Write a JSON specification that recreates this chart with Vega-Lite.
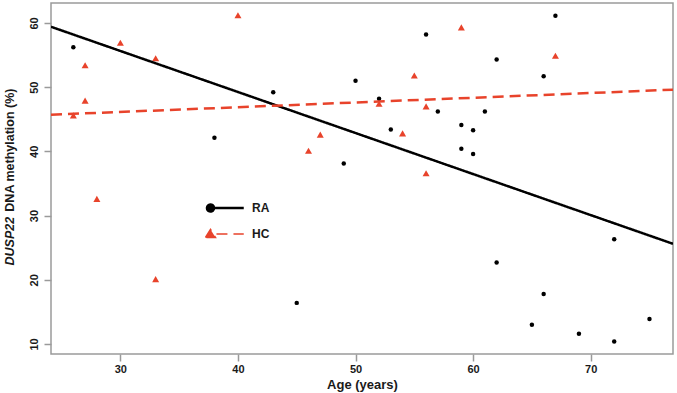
{
  "$schema": "https://vega.github.io/schema/vega-lite/v6.json",
  "width": 622,
  "height": 351,
  "autosize": "none",
  "padding": {"left": 51, "top": 3, "right": 4, "bottom": 39},
  "background": "white",
  "config": {
    "view": {"stroke": "#9a9a9a", "strokeWidth": 1.5},
    "axis": {
      "grid": false,
      "domain": false,
      "labelFont": "Liberation Sans",
      "labelFontWeight": "bold",
      "labelFontSize": 11,
      "labelColor": "#1a1a1a",
      "titleFont": "Liberation Sans",
      "titleFontWeight": "bold",
      "titleFontSize": 12.5,
      "titleColor": "#1a1a1a",
      "tickColor": "#9a9a9a",
      "tickWidth": 1.5,
      "tickSize": 7
    }
  },
  "datasets": {
    "samples": [
      {"group": "RA", "age": 26, "methylation": 56.2},
      {"group": "RA", "age": 38, "methylation": 42.1},
      {"group": "RA", "age": 43, "methylation": 49.2},
      {"group": "RA", "age": 45, "methylation": 16.4},
      {"group": "RA", "age": 49, "methylation": 38.1},
      {"group": "RA", "age": 50, "methylation": 51.0},
      {"group": "RA", "age": 52, "methylation": 48.2},
      {"group": "RA", "age": 53, "methylation": 43.4},
      {"group": "RA", "age": 56, "methylation": 58.2},
      {"group": "RA", "age": 57, "methylation": 46.2},
      {"group": "RA", "age": 59, "methylation": 44.1},
      {"group": "RA", "age": 59, "methylation": 40.4},
      {"group": "RA", "age": 60, "methylation": 43.3},
      {"group": "RA", "age": 60, "methylation": 39.6},
      {"group": "RA", "age": 61, "methylation": 46.2},
      {"group": "RA", "age": 62, "methylation": 54.3},
      {"group": "RA", "age": 62, "methylation": 22.7},
      {"group": "RA", "age": 65, "methylation": 13.0},
      {"group": "RA", "age": 66, "methylation": 51.7},
      {"group": "RA", "age": 66, "methylation": 17.8},
      {"group": "RA", "age": 67, "methylation": 61.1},
      {"group": "RA", "age": 69, "methylation": 11.6},
      {"group": "RA", "age": 72, "methylation": 26.3},
      {"group": "RA", "age": 72, "methylation": 10.4},
      {"group": "RA", "age": 75, "methylation": 13.9},
      {"group": "HC", "age": 26, "methylation": 45.6},
      {"group": "HC", "age": 27, "methylation": 53.4},
      {"group": "HC", "age": 27, "methylation": 47.9},
      {"group": "HC", "age": 28, "methylation": 32.6},
      {"group": "HC", "age": 30, "methylation": 56.9},
      {"group": "HC", "age": 33, "methylation": 54.5},
      {"group": "HC", "age": 33, "methylation": 20.1},
      {"group": "HC", "age": 40, "methylation": 61.2},
      {"group": "HC", "age": 46, "methylation": 40.1},
      {"group": "HC", "age": 47, "methylation": 42.6},
      {"group": "HC", "age": 52, "methylation": 47.4},
      {"group": "HC", "age": 54, "methylation": 42.8},
      {"group": "HC", "age": 55, "methylation": 51.8},
      {"group": "HC", "age": 56, "methylation": 47.0},
      {"group": "HC", "age": 56, "methylation": 36.6},
      {"group": "HC", "age": 59, "methylation": 59.3},
      {"group": "HC", "age": 67, "methylation": 54.9}
    ],
    "fits": [
      {"group": "RA", "age": 24.1, "methylation": 59.4},
      {"group": "RA", "age": 77.0, "methylation": 25.6},
      {"group": "HC", "age": 24.1, "methylation": 45.7},
      {"group": "HC", "age": 77.0, "methylation": 49.6}
    ]
  },
  "layer": [
    {
      "data": {"name": "samples"},
      "transform": [{"filter": "datum.group === 'RA'"}],
      "mark": {"type": "point", "filled": true, "opacity": 1, "shape": "circle", "size": 20},
      "encoding": {
        "x": {
          "field": "age",
          "type": "quantitative",
          "scale": {"domain": [24.1, 77], "nice": false, "zero": false},
          "axis": {
            "values": [30, 40, 50, 60, 70],
            "labelAngle": 0,
            "labelPadding": 2,
            "title": "Age (years)",
            "titleFontSize": 13,
            "titleBaseline": "alphabetic",
            "titleY": 34
          }
        },
        "y": {
          "field": "methylation",
          "type": "quantitative",
          "scale": {"domain": [8.44, 63.1], "nice": false, "zero": false},
          "axis": {
            "values": [10, 20, 30, 40, 50, 60],
            "labelAngle": -90,
            "labelPadding": 5,
            "title": "DNA methylation (%)",
            "titleAngle": 270,
            "titleAlign": "right",
            "titleBaseline": "alphabetic",
            "titleX": -38,
            "titleY": 85
          }
        },
        "color": {
          "field": "group",
          "type": "nominal",
          "scale": {"domain": ["RA", "HC"], "range": ["#000000", "#e8432b"]},
          "legend": {
            "orient": "none",
            "legendX": 153.5,
            "legendY": 199,
            "title": null,
            "padding": 0,
            "symbolSize": 49,
            "symbolOpacity": 1,
            "symbolType": {"expr": "datum.value === 'HC' ? 'M-1.43,1L0,-1.3L1.43,1ZM1.7,0L9.5,0' : 'M-1,0A1,1,0,1,0,1,0A1,1,0,1,0,-1,0ZM1,0L9.5,0'"},
            "symbolFillColor": {"expr": "datum.value === 'HC' ? '#e8432b' : '#000000'"},
            "symbolStrokeColor": {"expr": "datum.value === 'HC' ? '#e8432b' : '#000000'"},
            "symbolStrokeWidth": {"expr": "datum.value === 'HC' ? 1.5 : 2.5"},
            "symbolDash": {"expr": "datum.value === 'HC' ? [5, 3] : [1, 0]"},
            "labelOffset": 35.5,
            "rowPadding": 9,
            "labelFont": "Liberation Sans",
            "labelFontWeight": "bold",
            "labelFontSize": 12,
            "labelColor": "#1a1a1a"
          }
        }
      }
    },
    {
      "data": {"name": "samples"},
      "transform": [{"filter": "datum.group === 'HC'"}],
      "mark": {"type": "point", "filled": true, "opacity": 1, "shape": "triangle-up", "size": 49},
      "encoding": {
        "x": {"field": "age", "type": "quantitative"},
        "y": {"field": "methylation", "type": "quantitative", "axis": null},
        "color": {"field": "group", "type": "nominal"}
      }
    },
    {
      "data": {"name": "fits"},
      "mark": {"type": "line", "clip": true, "strokeWidth": 2.5},
      "encoding": {
        "x": {"field": "age", "type": "quantitative"},
        "y": {
          "field": "methylation",
          "type": "quantitative",
          "axis": {
            "orient": "left",
            "labels": false,
            "ticks": false,
            "domain": false,
            "title": "DUSP22",
            "titleFontStyle": "italic",
            "titleAngle": 270,
            "titleAlign": "left",
            "titleBaseline": "alphabetic",
            "titleX": -38,
            "titleY": 262
          }
        },
        "color": {"field": "group", "type": "nominal"},
        "strokeDash": {
          "field": "group",
          "type": "nominal",
          "scale": {"domain": ["RA", "HC"], "range": [[1, 0], [11, 6]]},
          "legend": null
        }
      }
    }
  ],
  "resolve": {"axis": {"y": "independent"}}
}
